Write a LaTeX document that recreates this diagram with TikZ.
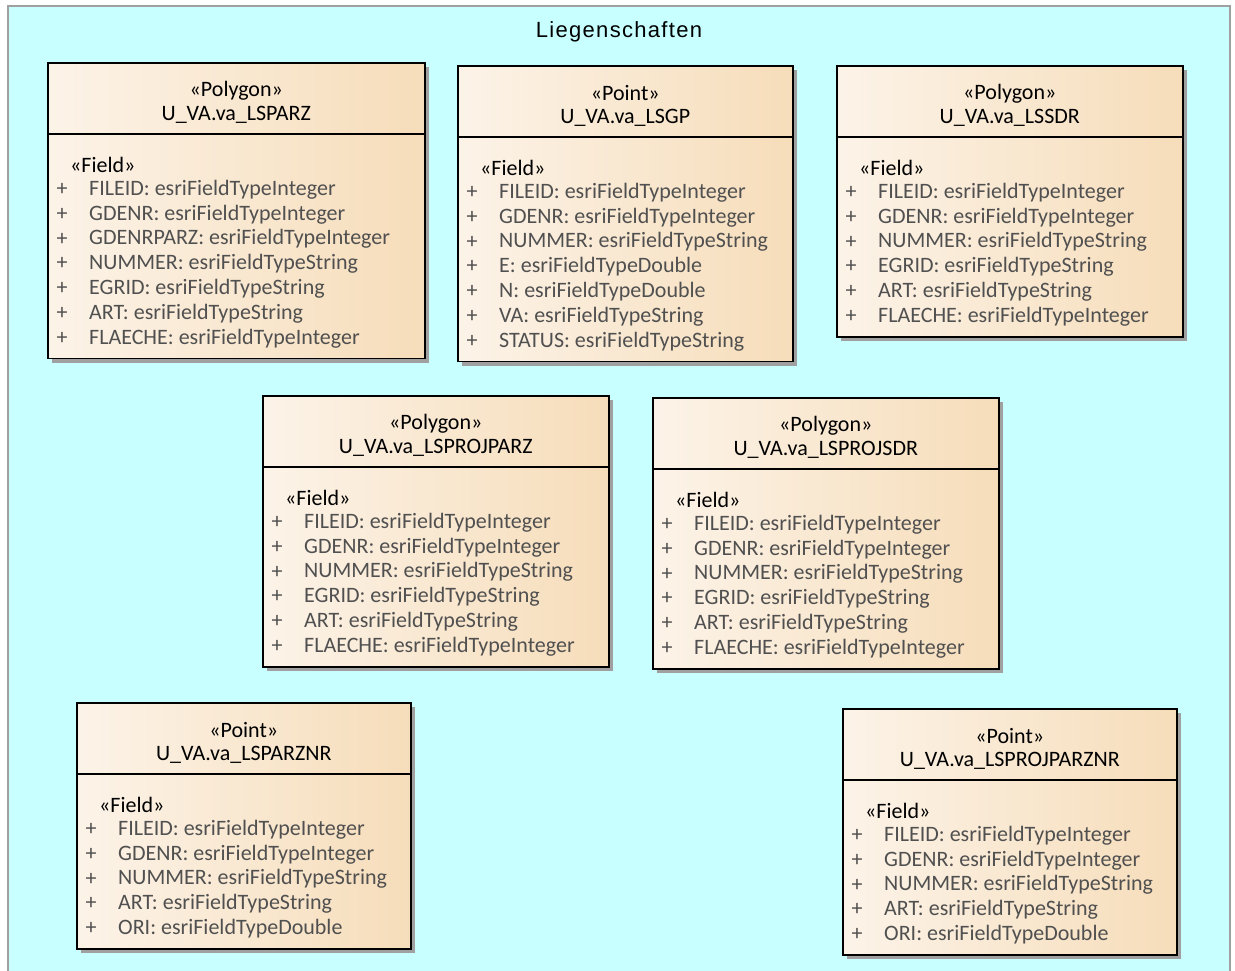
\documentclass[tikz,border=0pt]{standalone}
\usepackage{fontspec}
\setmainfont{Carlito}
\newfontfamily\titlefont[LetterSpace=6]{Liberation Sans}
\usetikzlibrary{shadows}

\definecolor{framefill}{HTML}{C8FFFF}
\definecolor{framedraw}{HTML}{A0A0A0}
\definecolor{boxL}{HTML}{FCF3E8}
\definecolor{boxR}{HTML}{F6DDBA}
\definecolor{shadowgray}{HTML}{A0A0A0}
\definecolor{attrgray}{HTML}{505050}

\tikzset{
  classbox/.style={draw=black, line width=1.6pt, left color=boxL, right color=boxR,
    inner sep=0pt, general shadow={fill=shadowgray, shadow xshift=4pt, shadow yshift=-4pt}},
  txt/.style={inner sep=0pt, font=\fontsize{22}{26}\selectfont},
  hdr/.style={txt, text=black, anchor=center},
  fieldst/.style={txt, text=black, anchor=west},
  plus/.style={txt, text=attrgray, anchor=center},
  attr/.style={txt, text=attrgray, anchor=west},
  pkgtitle/.style={inner sep=0pt, font=\titlefont\fontsize{22}{26}\selectfont, anchor=center},
}

% #1 name, #2 left, #3 top, #4 width, #5 number of rows,
% #6 stereotype, #7 class name, #8 attribute rows
\newcommand\umlclass[8]{%
  \pgfmathsetmacro\boxh{147+(#5-1)*24.8}%
  \node[classbox, minimum width=#4pt, minimum height=\boxh pt, anchor=north west] (#1) at (#2,#3) {};
  \draw[line width=1.2pt] ([yshift=-72pt]#1.north west) -- ([yshift=-72pt]#1.north east);
  \node[hdr] (#1-st) at ([yshift=-28.5pt]#1.north) {«#6»};
  \node[hdr] (#1-nm) at ([yshift=-52.5pt]#1.north) {#7};
  \node[fieldst] (#1-fs) at ([xshift=23pt,yshift=-102.5pt]#1.north west) {«Field»};
  \foreach \r [count=\i from 0] in {#8} {
    \node[plus] (#1-p\i) at ([xshift=15pt,yshift={-(127.5+\i*24.8)*1pt}]#1.north west) {+};
    \node[attr] (#1-a\i) at ([xshift=42pt,yshift={-(127.5+\i*24.8)*1pt}]#1.north west) {\r};
  }%
}

\begin{document}
\begin{tikzpicture}[x=1pt,y=-1pt]
  \useasboundingbox (0,0) rectangle (1235,971);
  % package frame
  \draw[draw=framedraw, fill=framefill, line width=1.5pt] (8,6) rectangle (1230,976);
  \node[pkgtitle] (title) at (619,31.5) {Liegenschaften};

  \umlclass{lsparz}{47}{62}{377}{7}{Polygon}{U\_VA.va\_LSPARZ}{%
    FILEID: esriFieldTypeInteger, GDENR: esriFieldTypeInteger,
    GDENRPARZ: esriFieldTypeInteger, NUMMER: esriFieldTypeString,
    EGRID: esriFieldTypeString, ART: esriFieldTypeString,
    FLAECHE: esriFieldTypeInteger}

  \umlclass{lsgp}{457}{65}{335}{7}{Point}{U\_VA.va\_LSGP}{%
    FILEID: esriFieldTypeInteger, GDENR: esriFieldTypeInteger,
    NUMMER: esriFieldTypeString, E: esriFieldTypeDouble,
    N: esriFieldTypeDouble, VA: esriFieldTypeString,
    STATUS: esriFieldTypeString}

  \umlclass{lssdr}{836}{65}{346}{6}{Polygon}{U\_VA.va\_LSSDR}{%
    FILEID: esriFieldTypeInteger, GDENR: esriFieldTypeInteger,
    NUMMER: esriFieldTypeString, EGRID: esriFieldTypeString,
    ART: esriFieldTypeString, FLAECHE: esriFieldTypeInteger}

  \umlclass{lsprojparz}{262}{395}{346}{6}{Polygon}{U\_VA.va\_LSPROJPARZ}{%
    FILEID: esriFieldTypeInteger, GDENR: esriFieldTypeInteger,
    NUMMER: esriFieldTypeString, EGRID: esriFieldTypeString,
    ART: esriFieldTypeString, FLAECHE: esriFieldTypeInteger}

  \umlclass{lsprojsdr}{652}{397}{346}{6}{Polygon}{U\_VA.va\_LSPROJSDR}{%
    FILEID: esriFieldTypeInteger, GDENR: esriFieldTypeInteger,
    NUMMER: esriFieldTypeString, EGRID: esriFieldTypeString,
    ART: esriFieldTypeString, FLAECHE: esriFieldTypeInteger}

  \umlclass{lsparznr}{76}{702}{334}{5}{Point}{U\_VA.va\_LSPARZNR}{%
    FILEID: esriFieldTypeInteger, GDENR: esriFieldTypeInteger,
    NUMMER: esriFieldTypeString, ART: esriFieldTypeString,
    ORI: esriFieldTypeDouble}

  \umlclass{lsprojparznr}{842}{708}{334}{5}{Point}{U\_VA.va\_LSPROJPARZNR}{%
    FILEID: esriFieldTypeInteger, GDENR: esriFieldTypeInteger,
    NUMMER: esriFieldTypeString, ART: esriFieldTypeString,
    ORI: esriFieldTypeDouble}
\end{tikzpicture}
\end{document}
